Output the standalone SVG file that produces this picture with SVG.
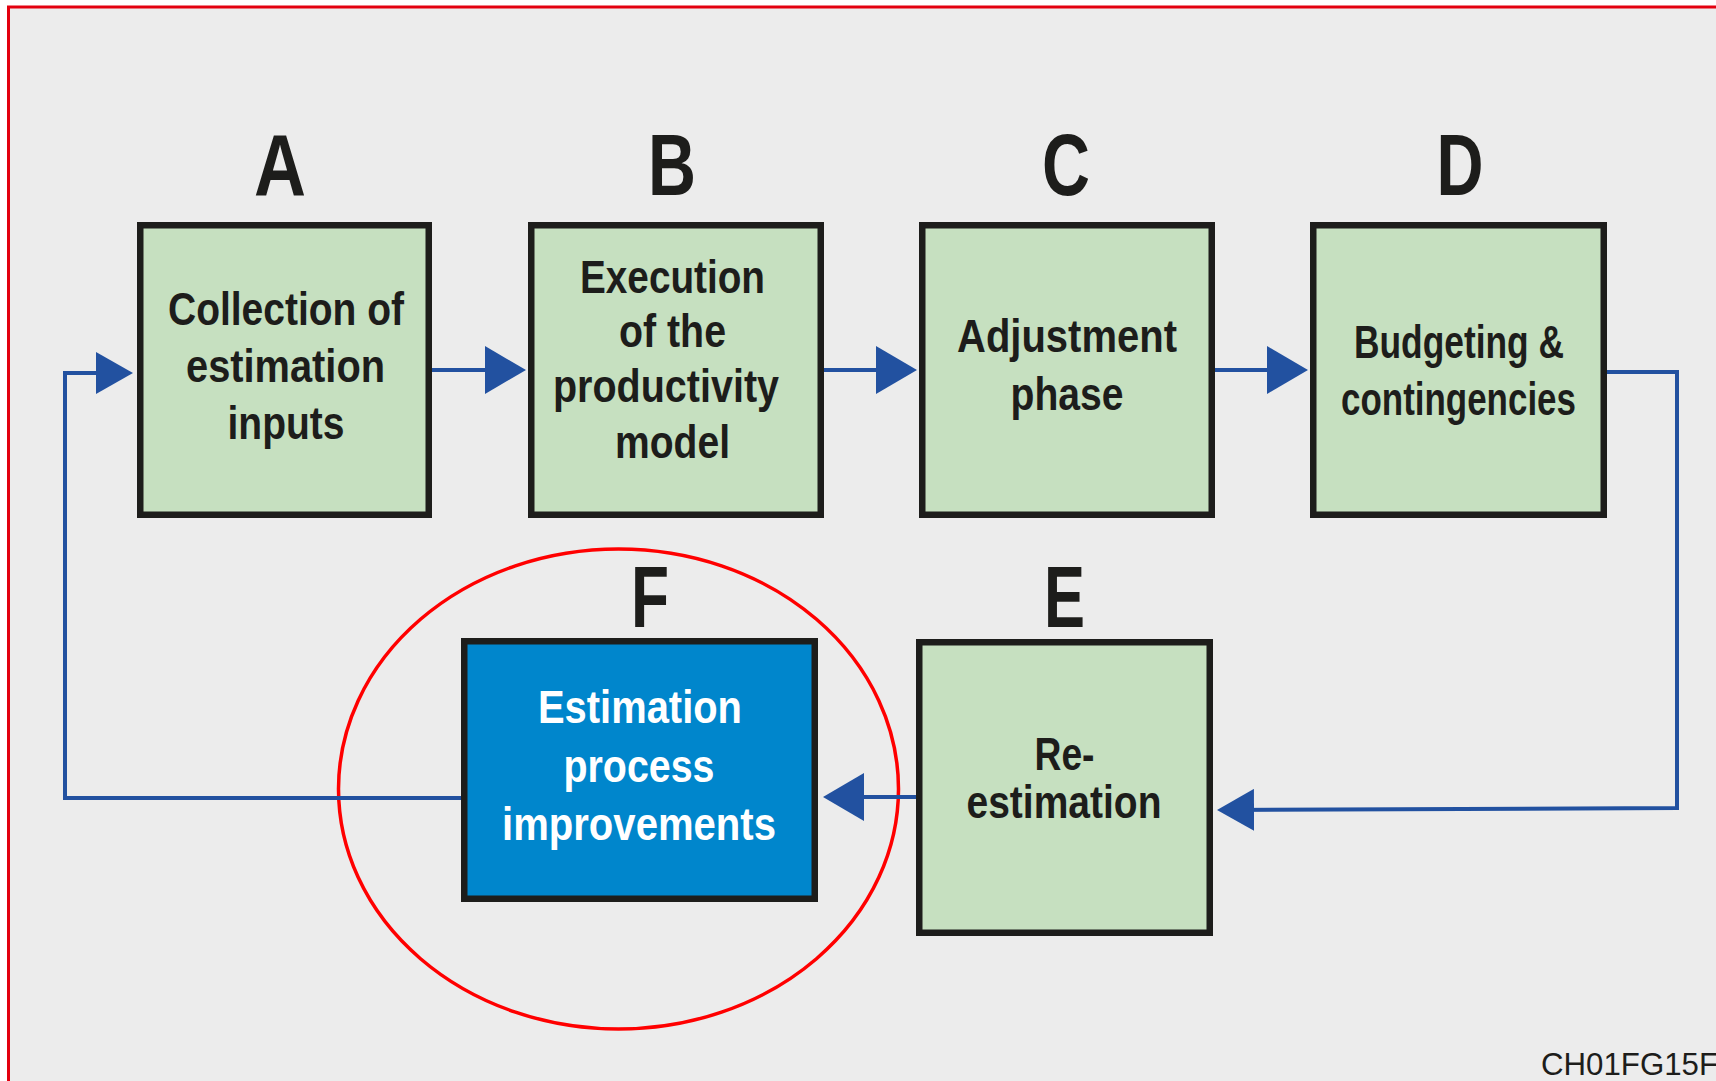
<svg xmlns="http://www.w3.org/2000/svg" width="1716" height="1081" viewBox="0 0 1716 1081">
<style>
.box{fill:#c6e0c0;stroke:#1d1d1b;stroke-width:6.5}
.boxf{fill:#0086cc;stroke:#1d1d1b;stroke-width:6.5}
.lbl{font-family:"Liberation Sans",Arial,sans-serif;font-weight:bold;font-size:46px;fill:#1d1d1b;text-anchor:middle}
.wht{fill:#ffffff}
.big{font-family:"Liberation Sans",Arial,sans-serif;font-weight:bold;font-size:88px;fill:#1d1d1b;text-anchor:middle}
.con{fill:none;stroke:#2251a0;stroke-width:4}
</style>
<defs>
<marker id="ab" viewBox="0 0 41 48" refX="31" refY="24" markerWidth="41" markerHeight="48" markerUnits="userSpaceOnUse" orient="auto"><path d="M0,0 L41,24 L0,48 z" fill="#2251a0"/></marker>
<marker id="as" viewBox="0 0 37 42" refX="27" refY="21" markerWidth="37" markerHeight="42" markerUnits="userSpaceOnUse" orient="auto"><path d="M0,0 L37,21 L0,42 z" fill="#2251a0"/></marker>
</defs>
<rect x="0" y="0" width="1716" height="1081" fill="#ffffff"/>
<rect x="8.5" y="7" width="1740" height="1100" fill="#ececec" stroke="#e3000f" stroke-width="3"/>
<ellipse cx="618.5" cy="789" rx="280" ry="240" fill="none" stroke="#ff0000" stroke-width="3.5"/>
<g id="connectors">
<path class="con" d="M432,370 H516" marker-end="url(#ab)"/>
<path class="con" d="M824,370 H907" marker-end="url(#ab)"/>
<path class="con" d="M1215,370 H1298" marker-end="url(#ab)"/>
<path class="con" d="M1607,372 H1677 V808 L1227,810" marker-end="url(#as)"/>
<path class="con" d="M916,797 H833" marker-end="url(#ab)"/>
<path class="con" d="M461,798 H65 V373 H123" marker-end="url(#as)"/>
</g>
<g id="nodeA">
<rect class="box" x="140.25" y="225.25" width="288.5" height="289.5"/>
<text class="big" x="280" y="195" textLength="52" lengthAdjust="spacingAndGlyphs">A</text>
<text class="lbl" x="286" y="325" textLength="236" lengthAdjust="spacingAndGlyphs">Collection of</text>
<text class="lbl" x="285.5" y="382" textLength="199" lengthAdjust="spacingAndGlyphs">estimation</text>
<text class="lbl" x="286" y="439" textLength="117" lengthAdjust="spacingAndGlyphs">inputs</text>
</g>
<g id="nodeB">
<rect class="box" x="531.25" y="225.25" width="289.5" height="289.5"/>
<text class="big" x="672" y="195" textLength="48" lengthAdjust="spacingAndGlyphs">B</text>
<text class="lbl" x="672.5" y="293" textLength="185" lengthAdjust="spacingAndGlyphs">Execution</text>
<text class="lbl" x="672.5" y="347" textLength="107" lengthAdjust="spacingAndGlyphs">of the</text>
<text class="lbl" x="666" y="402" textLength="226" lengthAdjust="spacingAndGlyphs">productivity</text>
<text class="lbl" x="672.5" y="458" textLength="115" lengthAdjust="spacingAndGlyphs">model</text>
</g>
<g id="nodeC">
<rect class="box" x="922.25" y="225.25" width="289.5" height="289.5"/>
<text class="big" x="1066" y="195" textLength="48" lengthAdjust="spacingAndGlyphs">C</text>
<text class="lbl" x="1067" y="352" textLength="220" lengthAdjust="spacingAndGlyphs">Adjustment</text>
<text class="lbl" x="1067" y="410" textLength="113" lengthAdjust="spacingAndGlyphs">phase</text>
</g>
<g id="nodeD">
<rect class="box" x="1313.25" y="225.25" width="290.5" height="289.5"/>
<text class="big" x="1460" y="195" textLength="47" lengthAdjust="spacingAndGlyphs">D</text>
<text class="lbl" x="1459" y="358" font-size="44" textLength="210" lengthAdjust="spacingAndGlyphs">Budgeting &amp;</text>
<text class="lbl" x="1458.5" y="415" font-size="44" textLength="235" lengthAdjust="spacingAndGlyphs">contingencies</text>
</g>
<g id="nodeE">
<rect class="box" x="919.25" y="642.25" width="290.5" height="290.5"/>
<text class="big" x="1064.5" y="627" textLength="41" lengthAdjust="spacingAndGlyphs">E</text>
<text class="lbl" x="1064.5" y="770" textLength="60" lengthAdjust="spacingAndGlyphs">Re-</text>
<text class="lbl" x="1064" y="818" textLength="195" lengthAdjust="spacingAndGlyphs">estimation</text>
</g>
<g id="nodeF">
<rect class="boxf" x="464.25" y="641.25" width="350.5" height="257.5"/>
<text class="big" x="650" y="627" textLength="38" lengthAdjust="spacingAndGlyphs">F</text>
<text class="lbl wht" x="640" y="723" textLength="204" lengthAdjust="spacingAndGlyphs">Estimation</text>
<text class="lbl wht" x="639" y="782" textLength="151" lengthAdjust="spacingAndGlyphs">process</text>
<text class="lbl wht" x="639" y="840" textLength="274" lengthAdjust="spacingAndGlyphs">improvements</text>
</g>
<text x="1541" y="1075" font-family="Liberation Sans,Arial,sans-serif" font-size="31" fill="#1d1d1b" textLength="177" lengthAdjust="spacingAndGlyphs">CH01FG15F</text>
</svg>
